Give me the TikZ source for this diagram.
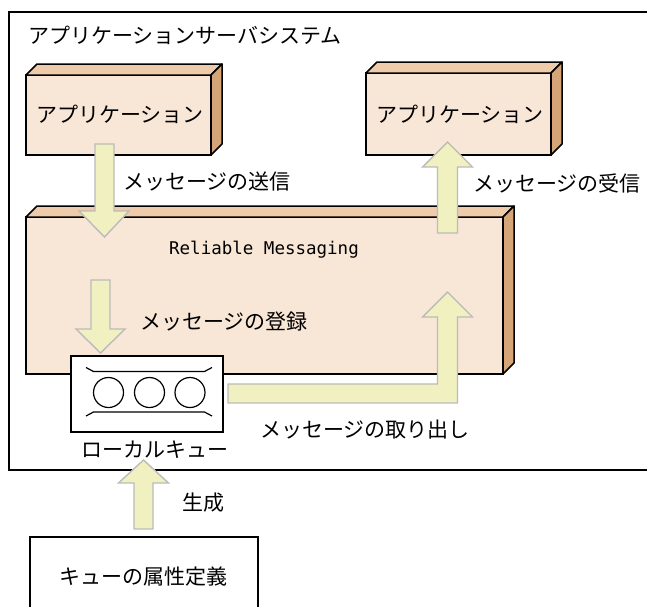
\documentclass[tikz,border=0pt]{standalone}
\usepackage{fontspec}
\setmainfont{Noto Sans CJK JP}
\newfontfamily\monofnt{DejaVu Sans Mono}
\definecolor{frontc}{HTML}{F8E6D6}
\definecolor{topc}{HTML}{EECBAA}
\definecolor{sidec}{HTML}{D6A577}
\definecolor{arrfill}{HTML}{F0F0C0}
\definecolor{arrdraw}{HTML}{BBBBBB}
\tikzset{
  x=1pt,y=-1pt,
  boxfront/.style={draw=black,line width=1.5pt,fill=frontc,inner sep=0pt,outer sep=0pt},
  topface/.style={draw=black,line width=1.5pt,fill=topc,line join=round},
  sideface/.style={draw=black,line width=1.5pt,fill=sidec,line join=round},
  plainbox/.style={draw=black,line width=1.5pt,fill=white,inner sep=0pt,outer sep=0pt},
  blockarrow/.style={draw=arrdraw,line width=1.4pt,fill=arrfill,line join=miter},
  lbl/.style={inner sep=0pt,font=\fontsize{21}{25}\selectfont},
  qline/.style={draw=black,line width=1.2pt},
}
\newcommand{\cuboid}[1]{%
  \draw[topface] (#1.north west) -- ++(11,-11) -- ([shift={(11,-11)}]#1.north east) -- (#1.north east) -- cycle;
  \draw[sideface] (#1.north east) -- ++(11,-11) -- ([shift={(11,-11)}]#1.south east) -- (#1.south east) -- cycle;
}
\begin{document}
\begin{tikzpicture}
\useasboundingbox (0,0) rectangle (647,606);
\clip (0,0) rectangle (647,606);
\fill[white] (0,0) rectangle (647,606);
% outer frame
\draw[line width=1.5pt] (9,12) rectangle (670,470);
\node[lbl,anchor=west] (title) at (28,35) {アプリケーションサーバシステム};

% application boxes
\node[boxfront,minimum width=185pt,minimum height=80pt] (app1) at (118.5,115) {};
\cuboid{app1}
\node[lbl] (app1t) at (120,114) {アプリケーション};
\node[boxfront,minimum width=185pt,minimum height=82pt] (app2) at (458.5,114) {};
\cuboid{app2}
\node[lbl] (app2t) at (460,114) {アプリケーション};

% Reliable Messaging
\node[boxfront,minimum width=477pt,minimum height=157pt] (rm) at (264.5,295.5) {};
\cuboid{rm}
\node[inner sep=0pt,font=\monofnt\fontsize{17.5}{20}\selectfont] (rmt) at (264,250) {Reliable Messaging};

% send arrow
\draw[blockarrow] (95,144) -- (114,144) -- (114,211) -- (129,211) -- (104.5,237) -- (79,211) -- (95,211) -- cycle;
\node[lbl,anchor=west] (send) at (123,182) {メッセージの送信};

% receive arrow
\draw[blockarrow] (437.5,233) -- (437.5,167) -- (422.5,167) -- (447.5,142) -- (472.5,167) -- (457.5,167) -- (457.5,233) -- cycle;
\node[lbl,anchor=west] (recv) at (473,183) {メッセージの受信};

% register arrow
\draw[blockarrow] (91,280) -- (110,280) -- (110,329) -- (125,329) -- (100.5,353) -- (76,329) -- (91,329) -- cycle;
\node[lbl,anchor=west] (reg) at (140,322) {メッセージの登録};

% local queue
\node[plainbox,minimum width=152pt,minimum height=76pt] (q) at (147,394) {};
\draw[qline] (86,367.5) -- (93.5,371.5) -- (204.5,371.5) -- (212,367.5);
\draw[qline] (86,416) -- (93.5,412) -- (204.5,412) -- (212,416);
\draw[qline] (108.5,392.5) circle (15);
\draw[qline] (149.5,392.5) circle (15);
\draw[qline] (190,392.5) circle (15);
\node[lbl] (qt) at (155,450) {ローカルキュー};

% retrieve arrow
\draw[blockarrow] (228,384) -- (437.5,384) -- (437.5,317) -- (422.5,317) -- (447.5,292) -- (472.5,317) -- (457.5,317) -- (457.5,403) -- (228,403) -- cycle;
\node[lbl,anchor=west] (get) at (260,430) {メッセージの取り出し};

% generate arrow
\draw[blockarrow] (134,529) -- (134,483) -- (118.5,483) -- (143.5,460) -- (168.5,483) -- (153,483) -- (153,529) -- cycle;
\node[lbl,anchor=west] (gen) at (182,503) {生成};

% attribute definition
\node[plainbox,minimum width=228pt,minimum height=100pt,fill=none] (def) at (144,587) {};
\node[lbl] (deft) at (143,577) {キューの属性定義};
\end{tikzpicture}
\end{document}
